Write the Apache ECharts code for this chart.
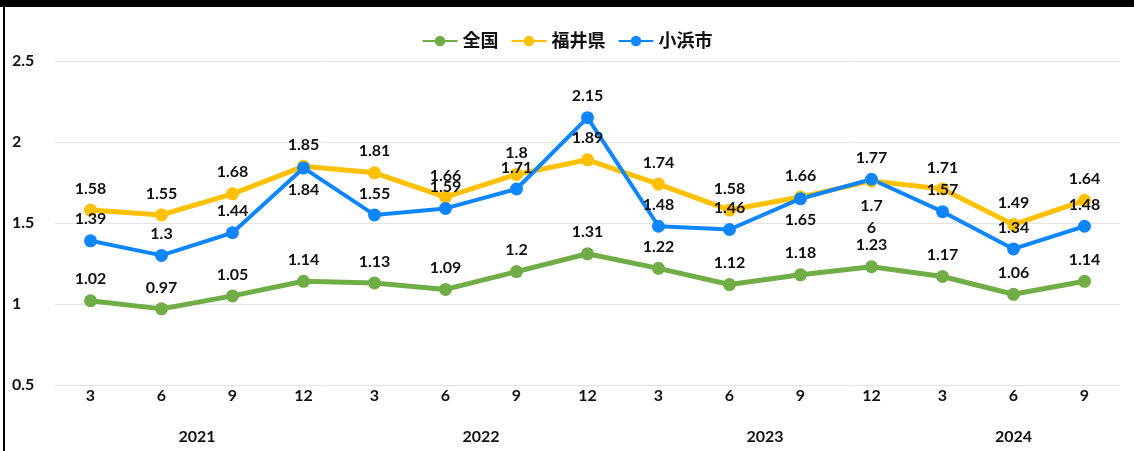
<!DOCTYPE html>
<html>
<head>
<meta charset="utf-8">
<script src="https://cdn.jsdelivr.net/npm/echarts@6/dist/echarts.min.js"></script>
<style>
html,body{margin:0;padding:0;background:#fff;}
#chart{width:1134px;height:451px;}
</style>
</head>
<body>
<div id="chart"></div>
<script>
var months = ['3','6','9','12','3','6','9','12','3','6','9','12','3','6','9'];
var years = ['2021','2022','2023','2024'];
var yearCounts = [4,4,4,3];
var zenkoku = [1.02,0.97,1.05,1.14,1.13,1.09,1.2,1.31,1.22,1.12,1.18,1.23,1.17,1.06,1.14];
var fukui = [1.58,1.55,1.68,1.85,1.81,1.66,1.8,1.89,1.74,1.58,1.66,1.76,1.71,1.49,1.64];
var obama = [1.39,1.3,1.44,1.84,1.55,1.59,1.71,2.15,1.48,1.46,1.65,1.77,1.57,1.34,1.48];

var font = 'Lato, "Noto Sans CJK JP", sans-serif';

// year label centres on a 0..15 value scale
var yearPos = {};
var start = 0;
for (var i = 0; i < years.length; i++) {
	yearPos[(start + yearCounts[i] / 2).toFixed(1)] = years[i];
	start += yearCounts[i];
}

function labelStyle(pos) {
	return {show:true,position:pos,distance:7,color:'#111',fontWeight:'bold',fontSize:16,fontFamily:font};
}

var fukuiData = fukui.map(function(v,i){
	if (i === 11) return {value:v,label:{position:'bottom',formatter:'1.7\n6',lineHeight:22}};
	return v;
});
var obamaData = obama.map(function(v,i){
	if (i === 3 || i === 10) return {value:v,label:{position:'bottom'}};
	return v;
});

var chart = echarts.init(document.getElementById('chart'));
chart.setOption({
	animation:false,
	textStyle:{fontFamily:font},
	graphic:[
		{type:'rect',left:0,top:0,shape:{width:1134,height:7},style:{fill:'#000'}},
		{type:'rect',left:3,top:0,shape:{width:2,height:451},style:{fill:'#000'}}
	],
	legend:{
		top:27,left:'center',itemWidth:35,itemHeight:13,itemGap:12,
		textStyle:{fontSize:18,fontWeight:'bold',color:'#111',fontFamily:font},
		data:['全国','福井県','小浜市']
	},
	grid:{left:55,right:14,top:61,bottom:66},
	xAxis:[{
		type:'category',data:months,
		axisLine:{show:false},axisTick:{show:false},
		axisLabel:{margin:3,color:'#111',fontWeight:'bold',fontSize:16,fontFamily:font}
	},{
		type:'value',position:'bottom',min:0,max:15,interval:0.5,
		axisLine:{show:false},axisTick:{show:false},splitLine:{show:false},
		axisLabel:{margin:44,color:'#111',fontWeight:'bold',fontSize:16,fontFamily:font,
			formatter:function(v){return yearPos[v.toFixed(1)] || '';}}
	}],
	yAxis:{
		type:'value',min:0.5,max:2.5,interval:0.5,
		axisLine:{show:false},axisTick:{show:false},
		splitLine:{lineStyle:{color:'#e3e3e3',width:1}},
		axisLabel:{margin:43,align:'left',color:'#111',fontWeight:'bold',fontSize:16,fontFamily:font}
	},
	series:[{
		name:'全国',type:'line',data:zenkoku,color:'#70AD47',
		symbol:'circle',symbolSize:13,lineStyle:{width:5},label:labelStyle('top')
	},{
		name:'福井県',type:'line',data:fukuiData,color:'#FFC000',
		symbol:'circle',symbolSize:13,lineStyle:{width:5},label:labelStyle('top')
	},{
		name:'小浜市',type:'line',data:obamaData,color:'#0F86FF',
		symbol:'circle',symbolSize:13,lineStyle:{width:4},label:labelStyle('top')
	}]
});
</script>
</body>
</html>
